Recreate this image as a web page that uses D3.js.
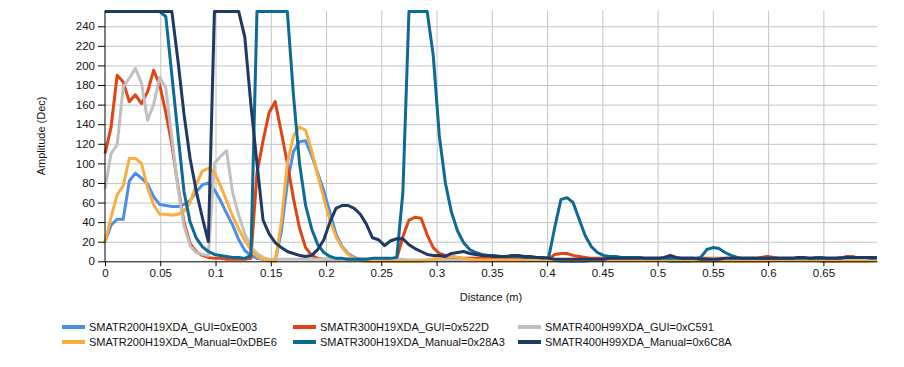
<!DOCTYPE html>
<html>
<head>
<meta charset="utf-8">
<script src="https://cdn.jsdelivr.net/npm/d3@7"></script>
<style>
  body { margin: 0; background: #fff; }
  svg { display: block; font-family: "Liberation Sans", Arial, sans-serif; }
</style>
</head>
<body>
<div id="chart"></div>
<script>
// amplitude per sample, one sample every 0.0055 m
const blueGui = [
  20, 37, 43, 43, 82, 90, 85, 79, 66, 58,
  57, 56, 56, 58, 62, 71, 78, 80, 73, 62,
  49, 37, 22, 11, 6, 3, 2, 1, 1, 30,
  80, 112, 122, 123, 108, 90, 72, 50, 28, 15,
  8, 4, 2, 1, 1, 1, 1, 1, 1, 1,
  1, 1, 1, 1, 2, 3, 4, 4, 3, 2,
  2, 2, 2, 2, 2, 2, 2, 2, 1, 1,
  1, 1, 1, 1, 1, 0, 0, 0, 0, 0,
  1, 1, 1, 1, 1, 1, 1, 1, 1, 1,
  1, 1, 1, 0, 0, 0, 0, 1, 1, 1,
  1, 1, 1, 1, 1, 1, 1, 1, 1, 1,
  1, 1, 1, 1, 1, 1, 1, 1, 0, 0,
  0, 0, 1, 1, 1, 1, 1, 1
];
const orangeManual = [
  19, 45, 68, 77, 105, 105, 100, 75, 58, 48,
  48, 47, 48, 51, 60, 78, 92, 95, 91, 77,
  62, 46, 33, 21, 12, 5, 2, 1, 0, 40,
  100, 128, 137, 134, 113, 88, 64, 42, 25, 14,
  7, 3, 1, 0, 0, 0, 0, 0, 0, 0,
  0, 0, 0, 1, 2, 3, 4, 5, 4, 3,
  2, 1, 1, 1, 1, 1, 1, 1, 1, 1,
  1, 1, 1, 1, 1, 1, 1, 1, 1, 1,
  1, 1, 1, 1, 1, 1, 1, 1, 1, 1,
  1, 1, 1, 1, 1, 1, 1, 0, 0, 0,
  0, 0, 0, 0, 0, 0, 0, 0, 0, 0,
  1, 1, 1, 1, 1, 1, 1, 1, 0, 0,
  0, 0, 0, 0, 0, 0, 0, 1
];
const redGui = [
  110, 137, 190, 183, 163, 170, 161, 173, 195, 180,
  152, 119, 77, 40, 18, 10, 6, 4, 3, 3,
  2, 2, 2, 2, 3, 90, 123, 152, 163, 132,
  100, 64, 34, 14, 6, 3, 2, 2, 2, 2,
  2, 2, 2, 2, 2, 2, 2, 2, 3, 25,
  42, 45, 44, 27, 14, 8, 6, 5, 4, 3,
  3, 3, 3, 3, 3, 3, 3, 3, 3, 3,
  3, 3, 3, 2, 7, 8, 8, 6, 5, 4,
  3, 3, 3, 3, 3, 3, 3, 3, 3, 3,
  3, 3, 3, 3, 3, 3, 3, 3, 3, 3,
  3, 3, 3, 3, 3, 3, 3, 3, 4, 5,
  4, 3, 3, 3, 3, 3, 3, 3, 3, 3,
  3, 3, 5, 5, 3, 3, 3, 3
];
const greyGui = [
  74, 110, 119, 178, 187, 197, 182, 144, 160, 188,
  177, 126, 75, 36, 16, 9, 7, 6, 100, 107,
  113, 70, 47, 28, 15, 8, 4, 2, 2, 2,
  2, 2, 2, 2, 2, 2, 2, 2, 2, 2,
  2, 2, 2, 2, 2, 2, 2, 2, 2, 2,
  1, 1, 1, 1, 1, 1, 1, 1, 1, 1,
  1, 1, 1, 1, 1, 1, 1, 1, 1, 1,
  1, 1, 1, 1, 1, 1, 1, 1, 1, 1,
  1, 1, 1, 1, 1, 1, 1, 1, 1, 1,
  1, 1, 1, 1, 1, 1, 1, 1, 1, 2,
  3, 2, 1, 1, 1, 1, 1, 1, 1, 1,
  1, 1, 1, 1, 1, 1, 1, 1, 1, 1,
  1, 1, 1, 1, 1, 1, 1, 1
];
const tealManual = [
  255, 255, 255, 255, 255, 255, 255, 255, 255, 255,
  250, 190, 130, 71, 40, 24, 15, 10, 7, 6,
  5, 4, 4, 3, 6, 255, 255, 255, 255, 255,
  255, 170, 100, 57, 33, 17, 9, 5, 3, 3,
  2, 2, 2, 2, 3, 3, 3, 3, 4, 70,
  255, 255, 255, 255, 210, 128, 80, 50, 31, 19,
  12, 9, 7, 6, 6, 5, 5, 5, 5, 4,
  4, 4, 3, 4, 35, 63, 65, 60, 43, 26,
  15, 9, 6, 5, 5, 4, 4, 4, 4, 3,
  3, 3, 3, 3, 3, 3, 3, 3, 4, 12,
  14, 13, 9, 6, 4, 3, 3, 3, 3, 3,
  3, 3, 3, 3, 3, 3, 3, 4, 4, 3,
  3, 4, 4, 4, 4, 4, 3, 3
];
const navyManual = [
  255, 255, 255, 255, 255, 255, 255, 255, 255, 255,
  255, 255, 205, 150, 105, 72, 45, 20, 255, 255,
  255, 255, 255, 229, 160, 100, 42, 28, 19, 14,
  10, 8, 6, 5, 6, 12, 22, 40, 54, 57,
  57, 54, 48, 38, 24, 22, 16, 21, 23, 23,
  17, 13, 10, 7, 6, 6, 5, 8, 9, 10,
  8, 7, 6, 6, 5, 5, 5, 6, 6, 5,
  5, 4, 4, 3, 2, 2, 2, 2, 2, 2,
  2, 2, 2, 3, 3, 3, 3, 3, 3, 3,
  3, 3, 4, 6, 4, 3, 3, 3, 2, 2,
  2, 2, 3, 3, 3, 3, 3, 3, 3, 3,
  3, 3, 3, 3, 4, 4, 3, 3, 3, 3,
  3, 3, 4, 4, 4, 4, 4, 4
];

const sampleStep = 0.0055;
const distance = d3.range(blueGui.length).map(i => i * sampleStep);

const seriesNames = [
  'SMATR200H19XDA_GUI=0xE003', 'SMATR300H19XDA_GUI=0x522D', 'SMATR400H99XDA_GUI=0xC591',
  'SMATR200H19XDA_Manual=0xDBE6', 'SMATR300H19XDA_Manual=0x28A3', 'SMATR400H99XDA_Manual=0x6C8A'
];
const seriesColors = ['#4a8fe6', '#e04414', '#c0c0c0', '#fbad3f', '#0d6a94', '#1f3864'];
const seriesValues = [blueGui, redGui, greyGui, orangeManual, tealManual, navyManual];

const xTicks = [0, 0.05, 0.1, 0.15, 0.2, 0.25, 0.3, 0.35, 0.4, 0.45, 0.5, 0.55, 0.6, 0.65];
const yTicks = [0, 20, 40, 60, 80, 100, 120, 140, 160, 180, 200, 220, 240];

function renderChart() {
  const width = 904, height = 367;
  const plot = { left: 105, right: 877, top: 10.6, bottom: 261.3 };

  const svg = d3.select('#chart').append('svg')
    .attr('width', width).attr('height', height);

  const x = d3.scaleLinear().domain([0, 0.6985]).range([plot.left, plot.right]);
  const y = d3.scaleLinear().domain([0, 256]).range([plot.bottom, plot.top]);

  // gridlines
  svg.append('g')
    .attr('transform', `translate(0,${plot.bottom})`)
    .call(d3.axisBottom(x).tickValues(xTicks.slice(1)).tickSize(-(plot.bottom - plot.top)).tickFormat(''))
    .call(g => g.select('.domain').remove())
    .call(g => g.selectAll('line').attr('stroke', '#c4c4c4'));
  svg.append('g')
    .attr('transform', `translate(${plot.left},0)`)
    .call(d3.axisLeft(y).tickValues(yTicks.slice(1)).tickSize(-(plot.right - plot.left)).tickFormat(''))
    .call(g => g.select('.domain').remove())
    .call(g => g.selectAll('line').attr('stroke', '#c4c4c4'));

  const line = d3.line()
    .x((d, i) => x(distance[i]))
    .y(d => y(d));

  svg.append('g').selectAll('path')
    .data(seriesValues)
    .join('path')
    .attr('d', line)
    .attr('fill', 'none')
    .attr('stroke', (d, i) => seriesColors[i])
    .attr('stroke-width', 3)
    .attr('stroke-linejoin', 'round');

  // axes
  svg.append('g')
    .attr('transform', `translate(0,${plot.bottom})`)
    .call(d3.axisBottom(x).tickValues(xTicks).tickSize(5).tickSizeOuter(0).tickPadding(3).tickFormat(d => String(d)))
    .call(g => g.select('.domain').attr('stroke', '#000'))
    .call(g => g.selectAll('text').attr('font-size', 11.5).attr('fill', '#111').attr('font-family', null));
  svg.append('g')
    .attr('transform', `translate(${plot.left},0)`)
    .call(d3.axisLeft(y).tickValues(yTicks).tickSize(7).tickSizeOuter(0).tickPadding(3))
    .call(g => g.select('.domain').attr('stroke', '#000').attr('d', `M0,${plot.top}V${plot.bottom}`))
    .call(g => g.selectAll('text').attr('font-size', 11.5).attr('fill', '#111').attr('font-family', null));

  svg.append('text')
    .attr('x', (plot.left + plot.right) / 2).attr('y', 301)
    .attr('text-anchor', 'middle').attr('font-size', 11).attr('fill', '#111')
    .text('Distance (m)');
  svg.append('text')
    .attr('transform', `translate(45,${(plot.top + plot.bottom) / 2}) rotate(-90)`)
    .attr('text-anchor', 'middle').attr('font-size', 11).attr('fill', '#111')
    .text('Amplitude (Dec)');

  // legend: 3 columns x 2 rows
  const colX = [62, 293, 518];
  const rowY = [327, 342];
  const legend = svg.append('g').selectAll('g')
    .data(seriesNames)
    .join('g')
    .attr('transform', (d, i) => `translate(${colX[i % 3]},${rowY[Math.floor(i / 3)]})`);
  legend.append('line')
    .attr('x1', 0).attr('x2', 23).attr('y1', 0).attr('y2', 0)
    .attr('stroke', (d, i) => seriesColors[i]).attr('stroke-width', 4);
  legend.append('text')
    .attr('x', 27).attr('y', 4)
    .attr('font-size', 11).attr('fill', '#111')
    .text(d => d);
}

renderChart();
</script>
</body>
</html>
